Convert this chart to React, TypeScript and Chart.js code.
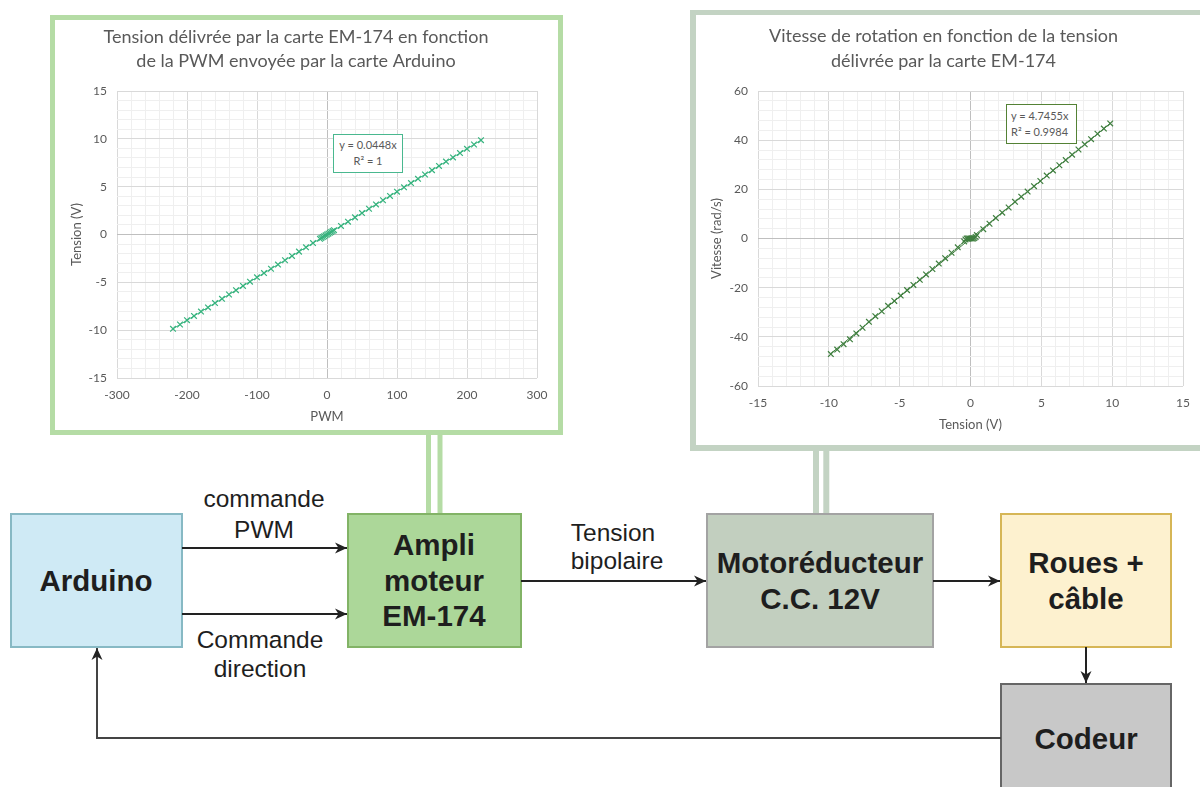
import React, { useEffect, useRef } from "react";
import { Chart, registerables } from "chart.js";

Chart.register(...registerables);

// ---------- Chart 1 : Tension vs PWM ----------
const chart1Title = [
  "Tension délivrée par la carte EM-174 en fonction",
  "de la PWM envoyée par la carte Arduino",
];
const pwmValues = [
  -220, -210, -200, -190, -180, -170, -160, -150, -140, -130, -120, -110, -100, -90, -80, -70, -60, -50, -40, -30, -20, -10,
  -8, -6, -4, -2, 0, 2, 4, 6, 8,
  10, 20, 30, 40, 50, 60, 70, 80, 90, 100, 110, 120, 130, 140, 150, 160, 170, 180, 190, 200, 210, 220,
];
const tensionOut = [
  -9.86, -9.41, -8.96, -8.51, -8.06, -7.62, -7.17, -6.72, -6.27, -5.82, -5.38, -4.93, -4.48, -4.03, -3.58, -3.14, -2.69, -2.24, -1.79, -1.34, -0.9, -0.45,
  -0.36, -0.27, -0.18, -0.09, 0, 0.09, 0.18, 0.27, 0.36,
  0.45, 0.9, 1.34, 1.79, 2.24, 2.69, 3.14, 3.58, 4.03, 4.48, 4.93, 5.38, 5.82, 6.27, 6.72, 7.17, 7.62, 8.06, 8.51, 8.96, 9.41, 9.86,
];
const pwmTrendX = [-220, 220];
const pwmTrendY = [-9.86, 9.86];
const chart1Equation = ["y = 0.0448x", "R² = 1"];

// ---------- Chart 2 : Vitesse vs Tension ----------
const chart2Title = [
  "Vitesse de rotation en fonction de la tension",
  "délivrée par la carte EM-174",
];
const tensionIn = [
  -9.86, -9.41, -8.96, -8.51, -8.06, -7.62, -7.17, -6.72, -6.27, -5.82, -5.38, -4.93, -4.48, -4.03, -3.58, -3.14, -2.69, -2.24, -1.79, -1.34, -0.9, -0.45,
  -0.36, -0.27, -0.18, -0.09, 0, 0.09, 0.18, 0.27, 0.36,
  0.45, 0.9, 1.34, 1.79, 2.24, 2.69, 3.14, 3.58, 4.03, 4.48, 4.93, 5.38, 5.82, 6.27, 6.72, 7.17, 7.62, 8.06, 8.51, 8.96, 9.41, 9.86,
];
const speedValues = [
  -47.0, -45.2, -43.0, -41.0, -38.6, -36.3, -33.9, -31.6, -29.6, -27.4, -25.4, -23.2, -21.0, -18.9, -16.8, -14.6, -12.4, -10.2, -8.0, -5.8, -3.6, -1.2,
  -0.4, 0, 0, 0, 0, 0, 0, 0.2, 0.6,
  1.4, 3.8, 6.0, 8.3, 10.5, 12.6, 14.9, 17.0, 19.1, 21.3, 23.4, 25.6, 27.7, 29.8, 31.9, 34.1, 36.2, 38.3, 40.4, 42.6, 44.7, 46.8,
];
const speedTrendX = [-9.86, 9.86];
const speedTrendY = [-46.79, 46.79];
const chart2Equation = ["y = 4.7455x", "R² = 0.9984"];

const FONT = "Lato, 'Open Sans', sans-serif";
const GREY = "#595959";

type AxisSpec = {
  min: number;
  max: number;
  step: number;
  major: number;
  title: string;
  size: number;
  titlePad: number;
  tickPad: number;
};

type ChartSpec = {
  xs: number[];
  ys: number[];
  tx: number[];
  ty: number[];
  color: string;
  title: string[];
  titleLineHeight: number;
  titleTop: number;
  titleBottom: number;
  padRight: number;
  x: AxisSpec;
  y: AxisSpec;
};

function gridColor(major: number) {
  return (ctx: any) => {
    const v = ctx.tick ? ctx.tick.value : 1;
    if (Math.abs(v) < 1e-9) return "#bfbfbf";
    if (Math.abs(v % major) < 1e-9) return "#d9d9d9";
    return "#efefef";
  };
}

function axis(spec: AxisSpec, horizontal: boolean) {
  return {
    type: "linear" as const,
    min: spec.min,
    max: spec.max,
    ticks: {
      stepSize: spec.step,
      autoSkip: false,
      maxRotation: 0,
      minRotation: 0,
      padding: spec.tickPad,
      color: GREY,
      font: { family: FONT, size: 12 },
      callback: (v: any) => (Math.abs(Number(v) % spec.major) < 1e-9 ? String(v) : ""),
    },
    grid: { color: gridColor(spec.major), drawTicks: false, lineWidth: 1 },
    border: { display: false },
    title: {
      display: true,
      text: spec.title,
      color: GREY,
      font: { family: FONT, size: 13 },
      padding: horizontal ? { top: 0, bottom: spec.titlePad } : { top: spec.titlePad, bottom: 0 },
    },
    afterFit: (scale: any) => {
      if (horizontal) scale.height = spec.size;
      else scale.width = spec.size;
    },
  };
}

function buildChart(canvas: HTMLCanvasElement, s: ChartSpec) {
  const pts = s.xs.map((x, i) => ({ x, y: s.ys[i] }));
  const trend = s.tx.map((x, i) => ({ x, y: s.ty[i] }));
  return new Chart(canvas, {
    type: "scatter",
    data: {
      datasets: [
        {
          data: trend,
          showLine: true,
          pointRadius: 0,
          borderColor: s.color,
          borderWidth: 1,
        },
        {
          data: pts,
          showLine: false,
          pointStyle: "crossRot",
          pointRadius: 4,
          borderColor: s.color,
          backgroundColor: s.color,
          borderWidth: 1.2,
        },
      ],
    },
    options: {
      responsive: false,
      maintainAspectRatio: false,
      animation: false,
      layout: { padding: { left: 0, right: s.padRight, top: 0, bottom: 0 } },
      plugins: {
        legend: { display: false },
        tooltip: { enabled: false },
        title: {
          display: true,
          text: s.title,
          color: GREY,
          font: { family: FONT, size: 18, weight: "normal", lineHeight: s.titleLineHeight },
          padding: { top: s.titleTop, bottom: s.titleBottom },
        },
      },
      scales: {
        x: axis(s.x, true),
        y: axis(s.y, false),
      },
    } as any,
  });
}

function ScatterCanvas({ spec, width, height }: { spec: ChartSpec; width: number; height: number }) {
  const ref = useRef<HTMLCanvasElement | null>(null);
  useEffect(() => {
    if (!ref.current) return;
    const c = buildChart(ref.current, spec);
    return () => c.destroy();
  }, [spec]);
  return <canvas ref={ref} width={width} height={height} style={{ width, height, display: "block" }} />;
}

const spec1: ChartSpec = {
  xs: pwmValues,
  ys: tensionOut,
  tx: pwmTrendX,
  ty: pwmTrendY,
  color: "#36b37e",
  title: chart1Title,
  titleLineHeight: 24 / 18,
  titleTop: 5,
  titleBottom: 18,
  padRight: 21,
  x: { min: -300, max: 300, step: 20, major: 100, title: "PWM", size: 52, titlePad: 5, tickPad: 10 },
  y: { min: -15, max: 15, step: 1, major: 5, title: "Tension (V)", size: 62, titlePad: 14, tickPad: 10 },
};

const spec2: ChartSpec = {
  xs: tensionIn,
  ys: speedValues,
  tx: speedTrendX,
  ty: speedTrendY,
  color: "#3f7f3f",
  title: chart2Title,
  titleLineHeight: 25 / 18,
  titleTop: 8.5,
  titleBottom: 17.5,
  padRight: 8,
  x: { min: -15, max: 15, step: 1, major: 5, title: "Tension (V)", size: 59, titlePad: 12, tickPad: 10 },
  y: { min: -60, max: 60, step: 4, major: 20, title: "Vitesse (rad/s)", size: 63, titlePad: 14, tickPad: 10 },
};

const TEXT = "#1e1e1e";
const BOX_FONT = "'Liberation Sans', Arial, sans-serif";

export default function App() {
  return (
    <div
      style={{
        position: "absolute",
        left: 0,
        top: 0,
        width: 1200,
        height: 787,
        overflow: "hidden",
        background: "#ffffff",
      }}
    >
      <svg width={1200} height={787} style={{ position: "absolute", left: 0, top: 0 }}>
        <defs>
          <marker id="arr" markerUnits="userSpaceOnUse" markerWidth="14" markerHeight="14" refX="13" refY="7" orient="auto">
            <path d="M1,1.5 L13,7 L1,12.5 L4.5,7 Z" fill="#222" />
          </marker>
        </defs>
        {/* links from charts */}
        <line x1={428.5} y1={433} x2={428.5} y2={514} stroke="#b5dca5" strokeWidth={5} />
        <line x1={440} y1={433} x2={440} y2={514} stroke="#b5dca5" strokeWidth={5} />
        <line x1={816} y1={448} x2={816} y2={514} stroke="#c3d3c3" strokeWidth={6} />
        <line x1={826.3} y1={448} x2={826.3} y2={514} stroke="#c3d3c3" strokeWidth={6} />

        {/* boxes */}
        <rect x={11} y={514} width={171} height={133} fill="#cfeaf5" stroke="#87b9c4" strokeWidth={2} />
        <rect x={348} y={514} width={173} height={133} fill="#acd799" stroke="#82b366" strokeWidth={2} />
        <rect x={707} y={514} width={226} height={133} fill="#c2cfbf" stroke="#a3a3a3" strokeWidth={2} />
        <rect x={1001} y={514} width={170} height={133} fill="#fdf1cf" stroke="#d6b656" strokeWidth={2} />
        <rect x={1001} y={684} width={170} height={130} fill="#c8c8c8" stroke="#666666" strokeWidth={2} />

        {/* arrows */}
        <line x1={182} y1={548} x2={347} y2={548} stroke="#222" strokeWidth={2} markerEnd="url(#arr)" />
        <line x1={182} y1={614} x2={347} y2={614} stroke="#222" strokeWidth={2} markerEnd="url(#arr)" />
        <line x1={521} y1={581} x2={706} y2={581} stroke="#222" strokeWidth={2} markerEnd="url(#arr)" />
        <line x1={933} y1={581} x2={1000} y2={581} stroke="#222" strokeWidth={2} markerEnd="url(#arr)" />
        <line x1={1086} y1={647} x2={1086} y2={683} stroke="#222" strokeWidth={2} markerEnd="url(#arr)" />
        <polyline points="1001,738 97,738 97,648" fill="none" stroke="#444" strokeWidth={2} markerEnd="url(#arr)" />

        {/* box texts */}
        <g fontFamily={BOX_FONT} fontWeight="bold" fontSize={29.5} fill={TEXT} textAnchor="middle" dominantBaseline="central">
          <text x={96} y={580}>Arduino</text>
          <text x={434} y={544}>Ampli</text>
          <text x={434} y={580}>moteur</text>
          <text x={434} y={615}>EM-174</text>
          <text x={820} y={562}>Motoréducteur</text>
          <text x={820} y={598}>C.C. 12V</text>
          <text x={1086} y={562}>Roues +</text>
          <text x={1086} y={598}>câble</text>
          <text x={1086} y={738}>Codeur</text>
        </g>
        {/* link labels */}
        <g fontFamily={BOX_FONT} fontSize={24.5} fill={TEXT} textAnchor="middle" dominantBaseline="central">
          <text x={264} y={498}>commande</text>
          <text x={264} y={529}>PWM</text>
          <text x={260} y={639}>Commande</text>
          <text x={260} y={668}>direction</text>
          <text x={613} y={532}>Tension</text>
          <text x={617} y={560}>bipolaire</text>
        </g>
      </svg>

      {/* Chart 1 frame */}
      <div
        style={{
          position: "absolute",
          left: 50,
          top: 15,
          width: 503,
          height: 410,
          border: "5px solid #b5dca5",
          background: "#fff",
        }}
      >
        <ScatterCanvas spec={spec1} width={503} height={410} />
      </div>
      {/* Chart 2 frame */}
      <div
        style={{
          position: "absolute",
          left: 690,
          top: 10,
          width: 520,
          height: 430,
          borderLeft: "6px solid #c3d3c3",
          borderTop: "5px solid #c3d3c3",
          borderBottom: "6px solid #c3d3c3",
          borderRight: "6px solid #c3d3c3",
          background: "#fff",
        }}
      >
        <div style={{ position: "absolute", left: -1, top: 0 }}>
          <ScatterCanvas spec={spec2} width={505} height={430} />
        </div>
      </div>

      {/* trendline equations */}
      <div
        style={{
          position: "absolute",
          left: 333,
          top: 134,
          width: 68,
          height: 35,
          border: "1px solid #49b88f",
          background: "#fff",
          color: GREY,
          fontFamily: FONT,
          fontSize: 11,
          lineHeight: "16px",
          textAlign: "center",
          paddingTop: 2,
          boxSizing: "content-box",
        }}
      >
        <div>{chart1Equation[0]}</div>
        <div>{chart1Equation[1]}</div>
      </div>
      <div
        style={{
          position: "absolute",
          left: 1006,
          top: 104,
          width: 65,
          height: 35,
          border: "1px solid #548235",
          background: "#fff",
          color: GREY,
          fontFamily: FONT,
          fontSize: 11,
          lineHeight: "16px",
          textAlign: "left",
          paddingLeft: 4,
          paddingTop: 3,
          boxSizing: "content-box",
        }}
      >
        <div>{chart2Equation[0]}</div>
        <div>{chart2Equation[1]}</div>
      </div>
    </div>
  );
}
